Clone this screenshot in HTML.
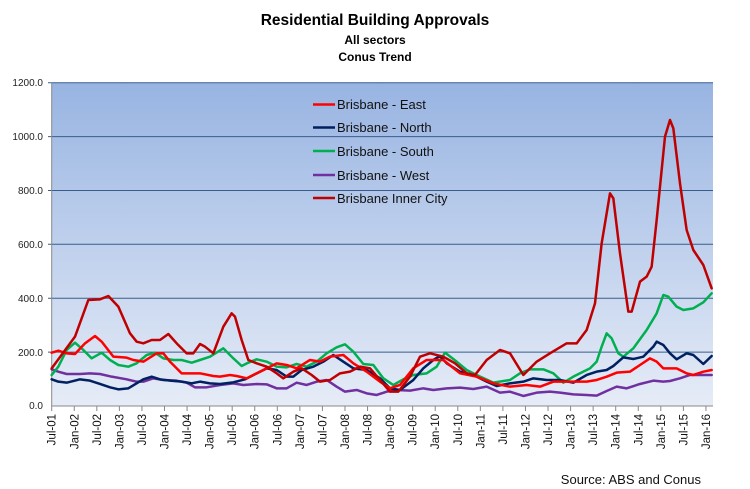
<!DOCTYPE html>
<html><head><meta charset="utf-8"><style>
body{margin:0;background:#fff;width:750px;height:489px;overflow:hidden}
svg{display:block;font-family:"Liberation Sans",sans-serif}
</style></head><body>
<svg width="750" height="489" viewBox="0 0 750 489">
<defs><linearGradient id="bg" x1="0" y1="0" x2="0" y2="1">
<stop offset="0" stop-color="#98b4e2"/><stop offset="1" stop-color="#e6ecf7"/></linearGradient></defs>
<text x="375" y="25" text-anchor="middle" font-size="15.5" font-weight="bold">Residential Building Approvals</text>
<text x="375" y="44" text-anchor="middle" font-size="12" font-weight="bold">All sectors</text>
<text x="375" y="61" text-anchor="middle" font-size="12" font-weight="bold">Conus Trend</text>
<rect x="51.7" y="82.7" width="661.3" height="323.3" fill="url(#bg)"/>
<g stroke="#385d8a" stroke-width="1">
<line x1="48" x2="713" y1="82.7" y2="82.7"/><line x1="48" x2="713" y1="136.6" y2="136.6"/>
<line x1="48" x2="713" y1="190.5" y2="190.5"/><line x1="48" x2="713" y1="244.3" y2="244.3"/>
<line x1="48" x2="713" y1="298.2" y2="298.2"/><line x1="48" x2="713" y1="352.1" y2="352.1"/>
</g>
<line x1="51.7" x2="713" y1="406" y2="406" stroke="#888"/>
<line x1="51.7" x2="51.7" y1="82.7" y2="406" stroke="#888"/>
<g font-size="10" text-anchor="end" fill="#222">
<text x="43" y="86">1200.0</text><text x="43" y="140">1000.0</text><text x="43" y="194">800.0</text>
<text x="43" y="248">600.0</text><text x="43" y="302">400.0</text><text x="43" y="356">200.0</text><text x="43" y="409">0.0</text>
</g>
<g id="ticks" stroke="#888"></g>
<g id="xl" font-size="11.5" fill="#111"></g>
<g transform="translate(0,60) scale(0.33333)" fill="none" stroke-linejoin="round" stroke-linecap="round" stroke-width="7.5">
<polyline stroke="#7030a0" points="155,928 175,935 200,942 240,942 270,940 300,942 335,950 380,958 410,965 430,965 460,955 490,960 530,962 560,968 585,982 620,982 660,975 700,970 730,975 770,972 800,973 830,985 860,985 890,968 920,975 950,965 980,960 1010,980 1035,995 1070,990 1100,1000 1130,1005 1160,995 1190,990 1230,992 1270,985 1300,990 1340,985 1380,983 1420,987 1460,980 1500,998 1530,995 1570,1008 1610,998 1650,995 1680,998 1720,1003 1760,1005 1790,1007 1820,993 1850,980 1880,985 1920,972 1960,962 1990,965 2010,963 2040,955 2070,945 2100,945 2135,945"/>
<polyline stroke="#00b050" points="155,945 175,920 200,870 225,848 250,870 275,895 305,878 330,900 355,915 385,920 410,910 440,885 465,878 490,895 520,900 545,900 575,908 600,900 630,890 670,865 700,895 725,918 745,908 770,898 800,905 830,920 860,922 890,912 920,920 950,905 980,880 1010,862 1035,853 1060,875 1090,912 1120,915 1150,955 1180,975 1210,958 1240,945 1280,940 1310,920 1335,878 1370,905 1400,930 1430,945 1480,968 1530,960 1560,940 1590,928 1630,928 1660,940 1690,968 1720,950 1750,935 1770,925 1790,905 1805,860 1820,820 1835,835 1855,880 1870,890 1900,865 1940,810 1970,760 1990,705 2005,710 2030,740 2050,750 2080,745 2110,727 2135,700"/>
<polyline stroke="#002060" points="155,958 175,965 200,968 240,958 270,962 300,972 330,982 355,988 385,985 410,970 430,958 455,950 480,958 510,962 545,965 575,970 600,965 630,970 660,972 700,967 735,958 770,940 800,925 830,930 860,950 880,950 905,930 940,920 970,905 1000,885 1030,905 1060,925 1100,930 1140,955 1170,985 1200,990 1240,960 1270,925 1300,900 1320,888 1340,910 1380,935 1420,945 1460,965 1490,978 1530,970 1570,965 1600,955 1640,960 1680,960 1720,968 1760,945 1790,935 1820,930 1840,918 1870,892 1900,897 1930,890 1960,860 1970,845 1990,855 2010,880 2030,898 2060,880 2080,885 2110,912 2135,888"/>
<polyline stroke="#ff0000" points="155,878 175,872 200,880 225,882 255,850 285,828 305,845 340,890 380,893 400,900 430,905 470,880 490,880 510,905 545,940 580,940 600,940 640,948 660,950 690,945 710,948 740,955 770,940 800,925 830,910 860,915 890,925 930,900 960,905 990,890 1030,885 1060,910 1100,935 1140,965 1170,985 1200,975 1240,925 1280,900 1330,900 1380,940 1430,950 1480,970 1530,980 1580,975 1620,980 1660,965 1710,965 1760,965 1790,960 1820,950 1850,938 1890,935 1920,915 1950,895 1970,905 1990,925 2030,925 2060,940 2080,945 2110,935 2135,930"/>
<polyline stroke="#c00000" points="155,925 225,830 265,720 300,718 325,708 355,740 390,820 410,845 430,850 455,840 480,840 505,822 530,850 560,880 580,880 600,852 615,860 640,880 670,800 695,760 705,770 725,840 745,900 770,910 800,920 830,940 850,955 880,935 905,925 935,945 960,965 990,960 1020,940 1050,935 1080,920 1110,925 1140,960 1170,995 1195,995 1230,950 1260,890 1290,880 1330,890 1365,910 1400,940 1425,945 1460,900 1500,870 1530,880 1570,945 1610,905 1650,880 1700,850 1730,850 1760,810 1785,730 1805,550 1830,400 1840,415 1860,580 1885,755 1895,755 1920,665 1940,650 1955,620 1970,480 1995,230 2010,180 2020,205 2040,370 2060,510 2080,570 2110,615 2135,685"/>
</g>
<g stroke-width="2.5">
<line x1="313" x2="335" y1="104.5" y2="104.5" stroke="#ff0000"/>
<line x1="313" x2="335" y1="127.5" y2="127.5" stroke="#002060"/>
<line x1="313" x2="335" y1="151" y2="151" stroke="#00b050"/>
<line x1="313" x2="335" y1="175" y2="175" stroke="#7030a0"/>
<line x1="313" x2="335" y1="198" y2="198" stroke="#c00000"/>
</g>
<g font-size="13" fill="#111">
<text x="337" y="109">Brisbane - East</text><text x="337" y="132">Brisbane - North</text>
<text x="337" y="156">Brisbane - South</text><text x="337" y="180">Brisbane - West</text>
<text x="337" y="203">Brisbane Inner City</text>
</g>
<text x="701" y="484" text-anchor="end" font-size="13" fill="#111">Source: ABS and Conus</text>
</svg>
<script>
var t=document.getElementById('ticks'),xl=document.getElementById('xl'),ns='http://www.w3.org/2000/svg';
for(var i=0;i<30;i++){var x=51.7+i*22.56;
var l=document.createElementNS(ns,'line');l.setAttribute('x1',x);l.setAttribute('x2',x);l.setAttribute('y1',406);l.setAttribute('y2',411);t.appendChild(l);
var yr=Math.floor((i+1)/2)+1;var s=(i%2==0?'Jul-':'Jan-')+(yr<10?'0':'')+yr;
var tx=document.createElementNS(ns,'text');tx.setAttribute('transform','translate('+(x+4)+',414) rotate(-90)');tx.setAttribute('text-anchor','end');tx.textContent=s;xl.appendChild(tx);}
</script>
</body></html>
